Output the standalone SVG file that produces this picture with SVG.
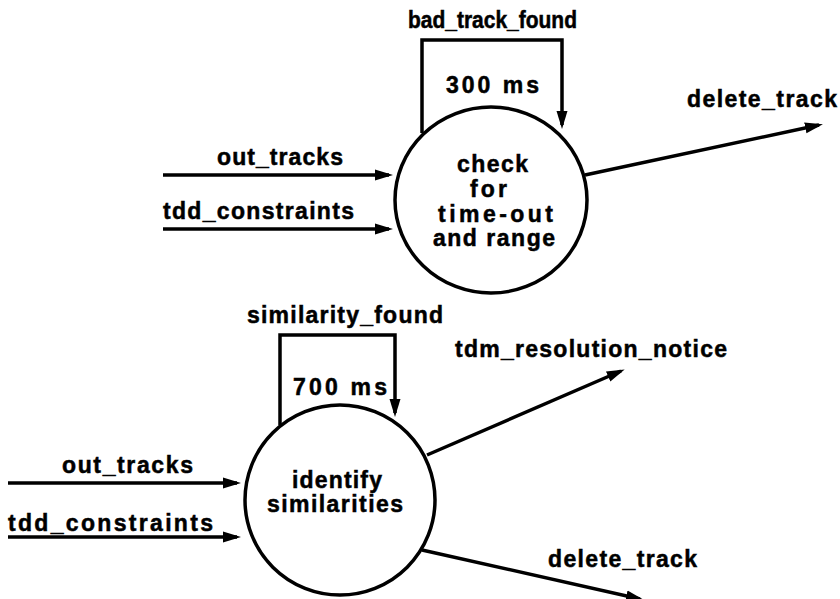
<svg xmlns="http://www.w3.org/2000/svg" width="840" height="599" viewBox="0 0 840 599">
<defs>
<marker id="ah" markerUnits="userSpaceOnUse" markerWidth="18" markerHeight="12" refX="14" refY="6" orient="auto" viewBox="0 0 18 12">
<path d="M0,0.5 L18,6 L0,11.5 z" fill="#000"/>
</marker>
<style>
text{font-family:"Liberation Sans",Arial,sans-serif;font-weight:bold;font-size:23px;fill:#000;stroke:#000;stroke-width:0.5}
.n{fill:none;stroke:#000;stroke-width:3.5}
.e{fill:none;stroke:#000;stroke-width:3.5;marker-end:url(#ah)}
</style>
</defs>
<rect width="840" height="599" fill="#fff"/>
<g id="connectors">
<line class="e" x1="163" y1="175" x2="389" y2="175"/>
<line class="e" x1="163" y1="229" x2="389" y2="229"/>
<polyline class="e" points="422,133 422,40 562,40 562,125"/>
<line class="e" x1="585" y1="175" x2="819" y2="125"/>
<line class="e" x1="8" y1="483" x2="237" y2="483"/>
<line class="e" x1="8" y1="537" x2="237" y2="537"/>
<polyline class="e" points="280,425 280,335 395,335 395,413"/>
<line class="e" x1="427" y1="455" x2="621" y2="371"/>
<line class="e" x1="422" y1="550" x2="640" y2="599"/>
</g>
<g id="labels">
<text x="408" y="28" textLength="169" lengthAdjust="spacingAndGlyphs">bad_track_found</text>
<text x="446" y="93" textLength="93" lengthAdjust="spacing">300 ms</text>
<text x="687" y="107" textLength="150" lengthAdjust="spacing">delete_track</text>
<text x="217" y="165" textLength="126" lengthAdjust="spacing">out_tracks</text>
<text x="163" y="219" textLength="191" lengthAdjust="spacing">tdd_constraints</text>
<text x="247" y="323" textLength="196" lengthAdjust="spacing">similarity_found</text>
<text x="293" y="395" textLength="94" lengthAdjust="spacing">700 ms</text>
<text x="455" y="357" textLength="272" lengthAdjust="spacing">tdm_resolution_notice</text>
<text x="62" y="473" textLength="131" lengthAdjust="spacing">out_tracks</text>
<text x="8" y="531" textLength="205" lengthAdjust="spacing">tdd_constraints</text>
<text x="548" y="567" textLength="149" lengthAdjust="spacing">delete_track</text>
</g>
<g id="check">
<ellipse class="n" cx="491" cy="200" rx="96" ry="93"/>
<text x="457" y="172" textLength="71" lengthAdjust="spacing">check</text>
<text x="470" y="197" textLength="37" lengthAdjust="spacing">for</text>
<text x="438" y="222" textLength="115" lengthAdjust="spacing">time-out</text>
<text x="433" y="246" textLength="122" lengthAdjust="spacing">and range</text>
</g>
<g id="identify">
<circle class="n" cx="340" cy="500" r="95"/>
<text x="292" y="488" textLength="90" lengthAdjust="spacing">identify</text>
<text x="267" y="512" textLength="136" lengthAdjust="spacing">similarities</text>
</g>
</svg>
